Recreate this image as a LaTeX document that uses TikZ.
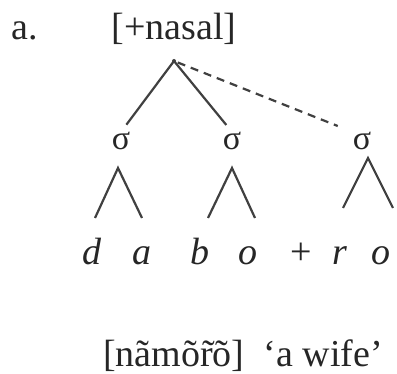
\documentclass[tikz,border=0pt]{standalone}
\usepackage{fontspec}
\setmainfont{Liberation Serif}
\usetikzlibrary{positioning}
\begin{document}
\begin{tikzpicture}[x=1pt, y=-1pt,
  txt/.style={inner sep=0pt, anchor=base, text=black!85, font=\fontsize{38}{40}\selectfont},
  seg/.style={txt, font=\fontsize{38}{40}\selectfont\itshape},
  syl/.style={inner sep=0pt, text=black!85, font=\fontsize{34}{36}\selectfont},
  branch/.style={line width=2.2pt, draw=black!75},
  assoc/.style={branch, dash pattern=on 8pt off 6pt}
]
\useasboundingbox (0,0) rectangle (397,374);
\node[txt] (label) at (25,40) {a.};
\node[txt] (feat) at (174,40) {[+nasal]};
\coordinate (apex) at (174,61);
\node[syl] (s1) at (121,141) {σ};
\node[syl] (s2) at (232,141) {σ};
\node[syl] (s3) at (362,141) {σ};
% segments
\node[seg] (d) at (92,265) {d};
\node[seg] (a) at (142,265) {a};
\node[seg] (b) at (200,265) {b};
\node[seg] (o) at (248,265) {o};
\node[txt] (plus) at (301,265) {+};
\node[seg] (r) at (340,265) {r};
\node[seg] (o2) at (381,265) {o};
\node[txt, anchor=base west] (gloss) at (103,367) {[nãmõ\~rõ]\ \ ‘a wife’};
% feature links
\draw[branch, shorten >=9pt] (apex) -- (s1.north);
\draw[branch, shorten >=9pt] (apex) -- (s2.north);
\draw[assoc, shorten <=4pt, shorten >=16pt] (apex) -- (s3.north west);
\fill[black!75] (apex) circle (2pt);
% syllable carets
\coordinate (c1) at (118,168);
\coordinate (c1l) at (95,218);
\coordinate (c1r) at (142,218);
\coordinate (c2) at (232,168);
\coordinate (c2l) at (208,218);
\coordinate (c2r) at (255,218);
\coordinate (c3) at (368,158);
\coordinate (c3l) at (343,208);
\coordinate (c3r) at (393,208);
\draw[branch] (c1l) -- (c1) -- (c1r);
\draw[branch] (c2l) -- (c2) -- (c2r);
\draw[branch] (c3l) -- (c3) -- (c3r);
\end{tikzpicture}
\end{document}
